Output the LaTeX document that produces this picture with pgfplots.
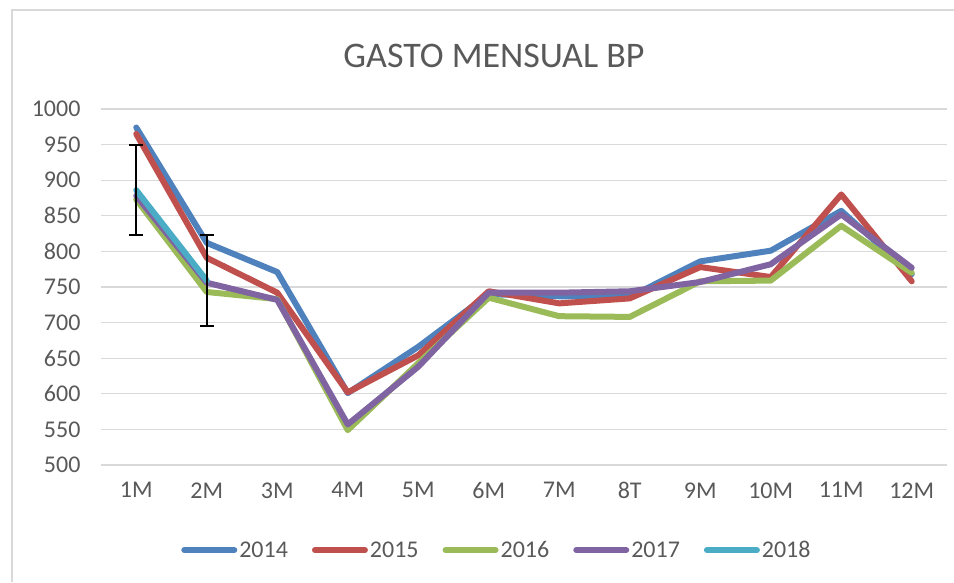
\documentclass[border=0pt]{standalone}
\usepackage{fontspec}
\setmainfont{Carlito}
\usepackage{pgfplots}
\pgfplotsset{compat=1.18}
\definecolor{cA}{HTML}{4F81BD}
\definecolor{cB}{HTML}{C0504D}
\definecolor{cC}{HTML}{9BBB59}
\definecolor{cD}{HTML}{8064A2}
\definecolor{cE}{HTML}{4BACC6}
\definecolor{txt}{HTML}{595959}
\definecolor{gridc}{HTML}{D9D9D9}
\begin{document}
\begin{tikzpicture}[x=1pt,y=1pt]
  \path[use as bounding box] (0pt,0pt) rectangle (954pt,582pt);
  \draw[gray!30, line width=1.5pt] (12pt,0pt) -- (12pt,572pt) -- (954pt,572pt);
  \node[font=\fontsize{36}{42}\selectfont, text=txt] at (494pt,526pt) {GASTO MENSUAL BP};
  \begin{axis}[
    at={(101pt,117pt)}, anchor=south west, scale only axis,
    width=846pt, height=356pt,
    xmin=0.5, xmax=12.5, ymin=500, ymax=1000,
    ytick={500,550,...,1000},
    xtick={1,...,12},
    xticklabels={1M,2M,3M,4M,5M,6M,7M,8T,9M,10M,11M,12M},
    ymajorgrids, grid style={draw=gridc, line width=1.3pt},
    axis line style={draw=none},
    major tick length=0pt,
    tick label style={font=\fontsize{24}{28}\selectfont, text=txt},
    /pgf/number format/assume math mode=true,
    /pgf/number format/1000 sep={},
    yticklabel style={xshift=-17pt},
    xticklabel style={yshift=-14pt},
    legend columns=5,
    legend style={draw=none, fill=none, at={(0.468,-0.239)}, anchor=center,
      font=\fontsize{24}{28}\selectfont, text=txt,
      /tikz/every even column/.append style={column sep=22pt}},
    legend image code/.code={\draw[#1, line width=6pt, line cap=round] (0pt,0pt) -- (50pt,0pt);},
    every axis plot/.append style={line width=6pt, line join=round, line cap=round},
  ]
  % 2014
  \addplot[cA] coordinates {(1,974) (2,812) (3,771) (4,601) (5,666) (6,740) (7,737) (8,736) (9,786) (10,801) (11,857) (12,768)};
  % 2015
  \addplot[cB] coordinates {(1,965) (2,791) (3,742) (4,602) (5,654) (6,744) (7,727) (8,734) (9,778) (10,764) (11,880) (12,758)};
  % 2016
  \addplot[cC] coordinates {(1,873) (2,743) (3,733) (4,549) (5,643) (6,735) (7,709) (8,708) (9,758) (10,759) (11,836) (12,770)};
  % 2017
  \addplot[cD] coordinates {(1,878) (2,756) (3,732) (4,557) (5,638) (6,742) (7,742) (8,744) (9,757) (10,782) (11,852) (12,777)};
  % 2018 with error bars
  \addplot[cE, error bars/.cd, y dir=both, y explicit,
    error bar style={black, line width=1.8pt, line cap=butt},
    error mark options={rotate=90, mark size=7pt, black, line width=1.8pt}]
    coordinates {(1,886) +- (0,63.5) (2,759) +- (0,63.5)};
  \legend{2014,2015,2016,2017,2018}
  \end{axis}
\end{tikzpicture}
\end{document}
